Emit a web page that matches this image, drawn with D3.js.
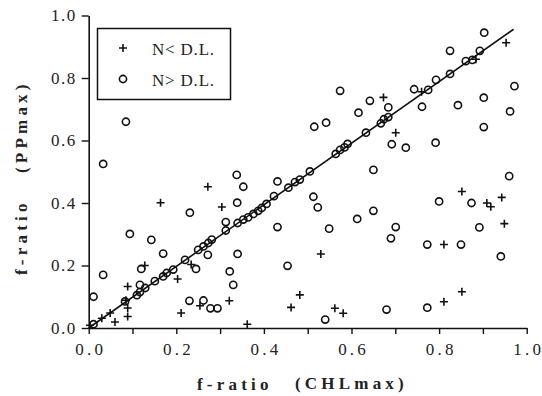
<!DOCTYPE html>
<html><head><meta charset="utf-8">
<script src="https://cdn.jsdelivr.net/npm/d3@7"></script>
<style>
html,body{margin:0;padding:0;background:#fff;}
svg{display:block;}
</style></head>
<body>
<script>
// N< D.L. (plus markers)  [x = f-ratio CHLmax, y = f-ratio PPmax]
const belowX = [0.003,0.030,0.049,0.060,0.085,0.089,0.089,0.089,0.128,0.164,0.203,0.211,0.234,0.254,0.272,0.304,0.321,0.362,0.462,0.482,0.530,0.562,0.581,0.673,0.701,0.760,0.884,0.953,0.852,0.909,0.918,0.943,0.949,0.811,0.852,0.811];
const belowY = [0.009,0.031,0.048,0.019,0.089,0.064,0.037,0.133,0.200,0.401,0.157,0.048,0.203,0.071,0.452,0.387,0.087,0.012,0.066,0.106,0.237,0.063,0.047,0.738,0.625,0.756,0.860,0.913,0.437,0.400,0.388,0.418,0.334,0.267,0.116,0.084];
// N> D.L. (circle markers)
const aboveX = [0.011,0.011,0.033,0.033,0.085,0.083,0.094,0.110,0.117,0.117,0.120,0.129,0.143,0.151,0.170,0.170,0.178,0.193,0.220,0.231,0.230,0.245,0.250,0.262,0.262,0.272,0.273,0.278,0.281,0.294,0.313,0.313,0.322,0.330,0.339,0.338,0.340,0.340,0.353,0.353,0.364,0.376,0.387,0.395,0.406,0.423,0.431,0.431,0.454,0.456,0.471,0.482,0.505,0.513,0.523,0.515,0.542,0.549,0.540,0.564,0.574,0.584,0.591,0.574,0.613,0.616,0.633,0.642,0.650,0.650,0.667,0.674,0.684,0.684,0.680,0.690,0.692,0.701,0.724,0.743,0.761,0.773,0.773,0.775,0.792,0.793,0.800,0.825,0.825,0.843,0.850,0.861,0.874,0.876,0.892,0.893,0.902,0.902,0.903,0.941,0.960,0.962,0.972];
const aboveY = [0.012,0.100,0.170,0.525,0.660,0.085,0.301,0.105,0.115,0.138,0.189,0.128,0.282,0.150,0.165,0.238,0.176,0.187,0.218,0.369,0.087,0.189,0.250,0.261,0.088,0.234,0.272,0.063,0.283,0.063,0.339,0.312,0.181,0.138,0.401,0.490,0.336,0.237,0.452,0.347,0.354,0.365,0.375,0.384,0.397,0.422,0.469,0.323,0.199,0.449,0.467,0.475,0.501,0.420,0.386,0.644,0.657,0.318,0.027,0.557,0.570,0.578,0.589,0.759,0.349,0.689,0.625,0.727,0.506,0.375,0.655,0.668,0.675,0.706,0.059,0.287,0.588,0.323,0.577,0.764,0.708,0.267,0.065,0.762,0.593,0.794,0.405,0.813,0.887,0.713,0.267,0.854,0.400,0.858,0.322,0.887,0.737,0.643,0.945,0.229,0.486,0.693,0.774];
// fitted line end points
const lineX = [0, 0.97];
const lineY = [0, 0.956];
const xTicks = [0,0.1,0.2,0.3,0.4,0.5,0.6,0.7,0.8,0.9,1.0];
const yTicks = [0,0.2,0.4,0.6,0.8,1.0];
const legendLabels = ["N< D.L.", "N> D.L."];

const W = 542, H = 396;
const svg = d3.select("body").append("svg").attr("width", W).attr("height", H);
const x = d3.scaleLinear().domain([0,1]).range([88.7, 526.7]);
const y = d3.scaleLinear().domain([0,1]).range([328, 15.5]);
const ink = "#111";
const serif = "'Liberation Serif','Times New Roman',serif";

// axes
const xAxis = d3.axisBottom(x).tickValues(xTicks).tickSizeOuter(0).tickSizeInner(6).tickPadding(9)
  .tickFormat(d => (Math.round(d*10) % 2 === 0) ? d3.format(".1f")(d) : "");
const gx = svg.append("g").attr("transform", `translate(0,${y(0)})`).call(xAxis);
gx.select(".domain").attr("stroke", ink).attr("stroke-width", 1.6);
gx.selectAll(".tick line").attr("stroke", ink).attr("stroke-width", 1.4);
gx.selectAll(".tick text").attr("font-family", serif).attr("font-size", 17).attr("fill", "#222")
  .attr("dy", "0.71em")
  .each(function() {
    const t = d3.select(this), s = t.text();
    if (!s) return;
    t.text(null);
    t.append("tspan").attr("letter-spacing", 3.2).text(s.slice(0, -1));
    t.append("tspan").text(s.slice(-1));
  });

const yAxis = d3.axisLeft(y).tickValues(yTicks).tickSizeOuter(0).tickSizeInner(7).tickPadding(5)
  .tickFormat(d3.format(".1f"));
const gy = svg.append("g").attr("transform", `translate(${x(0)},0)`).call(yAxis);
gy.select(".domain").attr("stroke", ink).attr("stroke-width", 1.6);
gy.selectAll(".tick line").attr("stroke", ink).attr("stroke-width", 1.4);
gy.selectAll(".tick text").attr("font-family", serif).attr("font-size", 17).attr("fill", "#222")
  .attr("letter-spacing", 1.5);

// axis titles
const titleStyle = s => s.attr("font-family", serif).attr("font-size", 17).attr("font-weight", "bold")
  .attr("fill", "#222").attr("letter-spacing", 4.2);
svg.append("text").attr("x", 197).attr("y", 390).text("f-ratio").call(titleStyle);
svg.append("text").attr("x", 295).attr("y", 389).text("(CHLmax)").call(titleStyle);
svg.append("text").attr("transform", "translate(27,275) rotate(-90)").text("f-ratio").call(titleStyle);
svg.append("text").attr("transform", "translate(27,173) rotate(-90)").text("(PPmax)").call(titleStyle);

// regression line
svg.append("line")
  .attr("x1", x(lineX[0])).attr("y1", y(lineY[0]))
  .attr("x2", x(lineX[1])).attr("y2", y(lineY[1]))
  .attr("stroke", ink).attr("stroke-width", 1.6);

// markers
const r = 3.6, p = 4;
const plusPath = (cx, cy) => `M${cx-p},${cy}H${cx+p}M${cx},${cy-p}V${cy+p}`;
svg.append("g").selectAll("circle").data(d3.range(aboveX.length)).join("circle")
  .attr("cx", i => x(aboveX[i])).attr("cy", i => y(aboveY[i])).attr("r", r)
  .attr("fill", "none").attr("stroke", ink).attr("stroke-width", 1.6);
svg.append("g").selectAll("path").data(d3.range(belowX.length)).join("path")
  .attr("d", i => plusPath(x(belowX[i]), y(belowY[i])))
  .attr("fill", "none").attr("stroke", ink).attr("stroke-width", 1.6);

// legend
const lg = svg.append("g");
lg.append("rect").attr("x", 97.5).attr("y", 28.5).attr("width", 133).attr("height", 71)
  .attr("fill", "#fff").attr("stroke", ink).attr("stroke-width", 1.5);
lg.append("path").attr("d", plusPath(123, 48)).attr("stroke", ink).attr("stroke-width", 1.6);
lg.append("circle").attr("cx", 123).attr("cy", 79).attr("r", r).attr("fill", "none").attr("stroke", ink).attr("stroke-width", 1.6);
lg.selectAll("text.l").data(legendLabels).join("text").attr("class", "l")
  .attr("x", 152).attr("y", (d, i) => 55 + i * 31).text(d => d)
  .attr("font-family", serif).attr("font-size", 17).attr("fill", "#222").attr("letter-spacing", 0.8);
</script>
</body></html>
